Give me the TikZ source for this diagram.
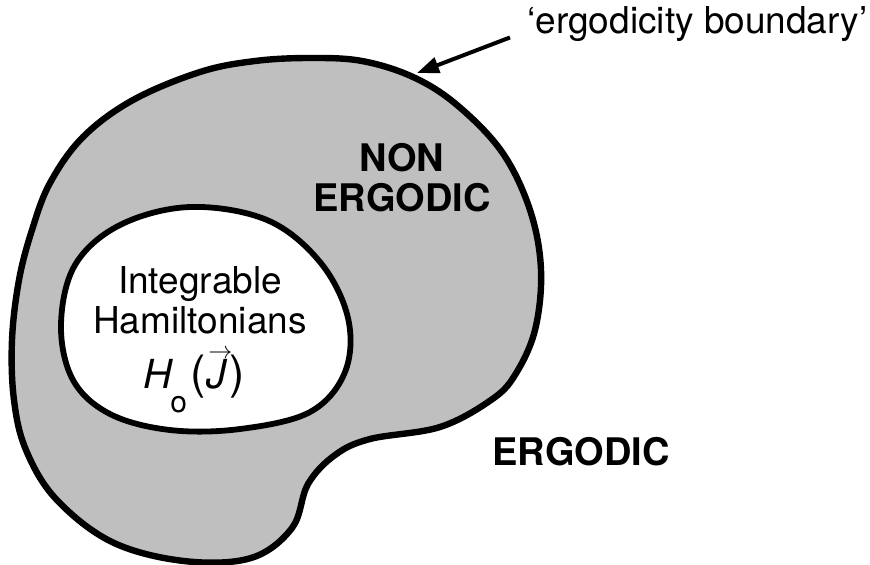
\documentclass[tikz,border=0pt]{standalone}
\usepackage{fontspec}
\setmainfont{TeX Gyre Heros}
\usetikzlibrary{arrows.meta, positioning}

\begin{document}
\begin{tikzpicture}[
    x=0.5pt, y=-0.5pt,
    region/.style={line width=3.2pt, line join=round},
    outerset/.style={region, fill=black!25},
    innerset/.style={region, line width=2.9pt, fill=white},
    lbl/.style={font=\fontsize{18.5}{20}\selectfont, inner sep=0pt, align=center},
    biglbl/.style={lbl, font=\fontsize{19}{20}\selectfont\bfseries},
    formula/.style={inner sep=0pt, font=\fontsize{20}{22}\selectfont},
    arr/.style={-{Triangle[length=11pt, width=8pt]}, line width=2pt}
]
\useasboundingbox (0,0) rectangle (870,564);

% ---- outer set (non ergodic) ----
\draw[outerset] plot[smooth cycle, tension=0.6] coordinates {
    (310,58) (362,61) (413,77) (457,105) (502,152) (530,210) (541,270)
    (535,330) (515,375) (491,400) (440,427) (370,439) (335,455) (308,484)
    (292,528) (251,558) (184,561) (112,542) (56,499) (26,450) (14,400)
    (12,340) (19,280) (32,230) (50,183) (83,137) (133,100) (200,72) (255,61)};

% ---- inner set (integrable) ----
\draw[innerset] plot[smooth cycle, tension=0.6] coordinates {
    (190,207) (267,220) (320,262) (348,318) (345,372) (310,412) (240,429)
    (170,430) (110,414) (73,380) (61,325) (75,265) (120,225)};

% ---- labels ----
\node[lbl]    (integ)  at (200,300) {Integrable\\Hamiltonians};
\node[formula, anchor=base] (hzero) at (194,388)
    {\itshape H\kern-1pt\upshape\raisebox{-12pt}{\fontsize{15}{15}\selectfont o}\kern2pt{\fontsize{23}{23}\selectfont(}\makebox[0pt][l]{\kern1pt\raisebox{15pt}{\fontsize{13}{13}\selectfont$\rightarrow$}}{\itshape J}\kern1.5pt{\fontsize{23}{23}\selectfont)}};
\node[biglbl] (nonerg) at (402,178) {NON\\ERGODIC};
\node[biglbl] (erg)    at (581,452) {ERGODIC};

% ---- boundary label and arrow ----
\node[lbl, anchor=base west] (bndlbl) at (527,33) {`ergodicity boundary'};
\coordinate (bndpt) at (417,73);
\draw[arr] ([shift={(-17,-4)}]bndlbl.south west) -- (bndpt);

\end{tikzpicture}
\end{document}
